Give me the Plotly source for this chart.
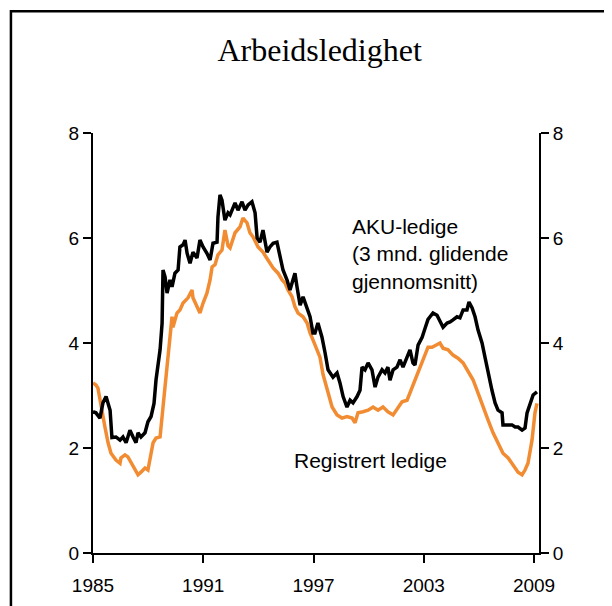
import plotly.graph_objects as go

# AKU-ledige (3 mnd. glidende gjennomsnitt), prosent
aku_year = [1985.00, 1985.16, 1985.38, 1985.54, 1985.71, 1985.93, 1986.03, 1986.25, 1986.47, 1986.63,
            1986.80, 1987.01, 1987.18, 1987.34, 1987.45, 1987.61, 1987.83, 1987.99, 1988.16, 1988.32,
            1988.43, 1988.54, 1988.65, 1988.76, 1988.81, 1988.92, 1989.03, 1989.19, 1989.30, 1989.46,
            1989.63, 1989.73, 1989.90, 1990.01, 1990.12, 1990.28, 1990.44, 1990.66, 1990.82, 1990.99,
            1991.20, 1991.37, 1991.53, 1991.75, 1991.80, 1991.91, 1992.02, 1992.18, 1992.35, 1992.46,
            1992.73, 1992.89, 1993.11, 1993.27, 1993.44, 1993.65, 1993.82, 1993.93, 1994.09, 1994.25,
            1994.47, 1994.63, 1994.80, 1995.01, 1995.18, 1995.34, 1995.56, 1995.72, 1995.88, 1995.99,
            1996.10, 1996.27, 1996.43, 1996.54, 1996.70, 1996.81, 1996.97, 1997.08, 1997.24, 1997.46,
            1997.63, 1997.79, 1998.06, 1998.28, 1998.44, 1998.61, 1998.82, 1998.99, 1999.15, 1999.37,
            1999.53, 1999.64, 1999.80, 1999.97, 2000.18, 2000.35, 2000.51, 2000.73, 2000.89, 2001.05,
            2001.16, 2001.33, 2001.54, 2001.71, 2001.87, 2002.09, 2002.25, 2002.41, 2002.52, 2002.69,
            2002.91, 2003.07, 2003.23, 2003.34, 2003.50, 2003.72, 2003.88, 2004.05, 2004.27, 2004.43,
            2004.59, 2004.81, 2004.97, 2005.14, 2005.35, 2005.46, 2005.63, 2005.79, 2005.95, 2006.17,
            2006.33, 2006.50, 2006.71, 2006.88, 2007.04, 2007.26, 2007.31, 2007.53, 2007.80, 2007.97,
            2008.13, 2008.35, 2008.51, 2008.62, 2008.78, 2008.95, 2009.16]
aku_val = [2.69, 2.67, 2.57, 2.86, 2.98, 2.72, 2.20, 2.21, 2.15, 2.21,
           2.10, 2.34, 2.21, 2.10, 2.29, 2.21, 2.29, 2.50, 2.60, 2.85,
           3.30, 3.62, 3.87, 4.38, 5.39, 5.26, 4.95, 5.20, 5.07, 5.33,
           5.39, 5.83, 5.87, 5.96, 5.71, 5.52, 5.73, 5.62, 5.96, 5.83,
           5.71, 5.58, 5.90, 5.92, 6.40, 6.82, 6.72, 6.34, 6.48, 6.44,
           6.67, 6.53, 6.69, 6.53, 6.63, 6.69, 6.48, 6.00, 5.92, 6.15,
           5.73, 5.83, 5.90, 5.92, 5.64, 5.39, 5.20, 5.01, 5.20, 5.33,
           5.07, 4.72, 4.88, 4.76, 4.57, 4.50, 4.19, 4.19, 4.38, 4.11,
           3.81, 3.49, 3.35, 3.43, 3.24, 2.98, 2.78, 2.91, 2.86, 2.98,
           3.10, 3.54, 3.49, 3.62, 3.49, 3.16, 3.35, 3.49, 3.43, 3.54,
           3.29, 3.49, 3.54, 3.68, 3.54, 3.73, 3.87, 3.62, 3.58, 3.96,
           4.11, 4.28, 4.45, 4.50, 4.57, 4.53, 4.40, 4.30, 4.38, 4.40,
           4.44, 4.50, 4.48, 4.63, 4.63, 4.78, 4.67, 4.50, 4.25, 4.00,
           3.73, 3.43, 3.10, 2.86, 2.72, 2.67, 2.44, 2.44, 2.44, 2.40,
           2.40, 2.34, 2.38, 2.67, 2.86, 3.01, 3.07]

# Registrert ledige, prosent
reg_year = [1985.00, 1985.16, 1985.27, 1985.44, 1985.65, 1985.82, 1985.98, 1986.25, 1986.47, 1986.52,
            1986.74, 1986.90, 1987.07, 1987.29, 1987.45, 1987.61, 1987.83, 1987.99, 1988.10, 1988.27,
            1988.43, 1988.65, 1988.81, 1988.97, 1989.08, 1989.19, 1989.30, 1989.35, 1989.57, 1989.73,
            1989.90, 1990.17, 1990.39, 1990.44, 1990.66, 1990.82, 1990.99, 1991.20, 1991.37, 1991.48,
            1991.64, 1991.80, 1992.02, 1992.18, 1992.35, 1992.46, 1992.73, 1993.00, 1993.16, 1993.38,
            1993.54, 1993.71, 1993.98, 1994.25, 1994.52, 1994.80, 1995.07, 1995.29, 1995.45, 1995.61,
            1995.83, 1995.99, 1996.16, 1996.43, 1996.65, 1996.81, 1996.97, 1997.19, 1997.35, 1997.52,
            1997.74, 1998.01, 1998.28, 1998.55, 1998.82, 1999.10, 1999.26, 1999.42, 1999.69, 1999.97,
            2000.24, 2000.51, 2000.78, 2001.05, 2001.33, 2001.60, 2001.82, 2002.09, 2002.25, 2002.52,
            2002.80, 2003.07, 2003.23, 2003.45, 2003.72, 2003.88, 2004.05, 2004.32, 2004.59, 2004.86,
            2005.14, 2005.41, 2005.68, 2005.95, 2006.22, 2006.50, 2006.77, 2007.04, 2007.31, 2007.59,
            2007.86, 2008.13, 2008.35, 2008.51, 2008.67, 2008.89, 2009.05, 2009.16]
reg_val = [3.24, 3.20, 3.14, 2.78, 2.40, 2.10, 1.90, 1.77, 1.71, 1.81,
           1.87, 1.83, 1.73, 1.58, 1.49, 1.54, 1.62, 1.58, 1.81, 2.10,
           2.19, 2.21, 2.78, 3.40, 3.81, 4.10, 4.50, 4.30, 4.57, 4.63,
           4.76, 4.86, 5.01, 4.86, 4.69, 4.57, 4.76, 4.95, 5.20, 5.45,
           5.49, 5.68, 5.77, 6.15, 5.85, 5.81, 6.10, 6.21, 6.38, 6.29,
           6.10, 6.02, 5.83, 5.73, 5.58, 5.43, 5.33, 5.20, 5.14, 5.01,
           4.88, 4.69, 4.57, 4.50, 4.38, 4.19, 4.06, 3.87, 3.73, 3.40,
           3.10, 2.78, 2.63, 2.57, 2.60, 2.57, 2.48, 2.67, 2.69, 2.72,
           2.78, 2.72, 2.78, 2.69, 2.63, 2.76, 2.88, 2.91, 3.05, 3.30,
           3.54, 3.81, 3.92, 3.92, 3.96, 4.00, 3.90, 3.87, 3.77, 3.71,
           3.62, 3.45, 3.30, 3.05, 2.78, 2.53, 2.29, 2.10, 1.90, 1.81,
           1.68, 1.54, 1.49, 1.58, 1.71, 2.15, 2.67, 2.85]

year_ticks = [1985, 1991, 1997, 2003, 2009]
value_ticks = [0, 2, 4, 6, 8]

tick_font = dict(family="Liberation Sans, Arial", size=19, color="black")

fig = go.Figure()
fig.add_trace(go.Scatter(x=reg_year, y=reg_val, mode="lines",
                         line=dict(color="#F28C33", width=3.5), name="Registrert ledige"))
fig.add_trace(go.Scatter(x=aku_year, y=aku_val, mode="lines", yaxis="y2",
                         line=dict(color="black", width=3.5), name="AKU-ledige"))

# siden vises med 8 px marg i nettleseren
fig.update_layout(
    width=604, height=598,
    margin=dict(l=85, r=73, t=125, b=53),
    paper_bgcolor="white", plot_bgcolor="white",
    showlegend=False,
    title=dict(text="Arbeidsledighet", x=0.516, xanchor="center", y=0.93, yanchor="middle",
               font=dict(family="Liberation Serif, Times New Roman", size=32, color="black")),
    xaxis=dict(range=[1985, 2009.27], tickvals=year_ticks, ticks="outside", ticklen=8,
               tickwidth=1.5, tickcolor="black", showline=True, linecolor="black", linewidth=2,
               showgrid=False, zeroline=False, tickfont=tick_font, ticklabelstandoff=6,
               automargin=False),
    yaxis=dict(range=[0, 8], tickvals=value_ticks, ticks="outside", ticklen=8,
               tickwidth=1.5, tickcolor="black", showline=True, linecolor="black", linewidth=2,
               showgrid=False, zeroline=False, tickfont=tick_font, automargin=False),
    yaxis2=dict(range=[0, 8], tickvals=value_ticks, ticks="outside", ticklen=8,
                tickwidth=1.5, tickcolor="black", showline=True, linecolor="black", linewidth=2,
                showgrid=False, zeroline=False, tickfont=tick_font, overlaying="y", side="right",
                automargin=False),
)

# ramme rundt figuren
fig.add_shape(type="rect", xref="paper", yref="paper", x0=-0.184, x1=1.25, y0=-0.3, y1=1.29,
              line=dict(color="black", width=2.5), layer="below")

ann_font = dict(family="Liberation Sans, Arial", size=21, color="black")
fig.add_annotation(x=1998.99, y=5.70, xref="x", yref="y", showarrow=False, xanchor="left",
                   yanchor="middle", align="left", font=ann_font,
                   text="AKU-ledige<br>(3 mnd. glidende<br>gjennomsnitt)")
fig.add_annotation(x=1995.83, y=1.77, xref="x", yref="y", showarrow=False, xanchor="left",
                   yanchor="middle", align="left", font=ann_font, text="Registrert ledige")

fig.write_html("out.html")
